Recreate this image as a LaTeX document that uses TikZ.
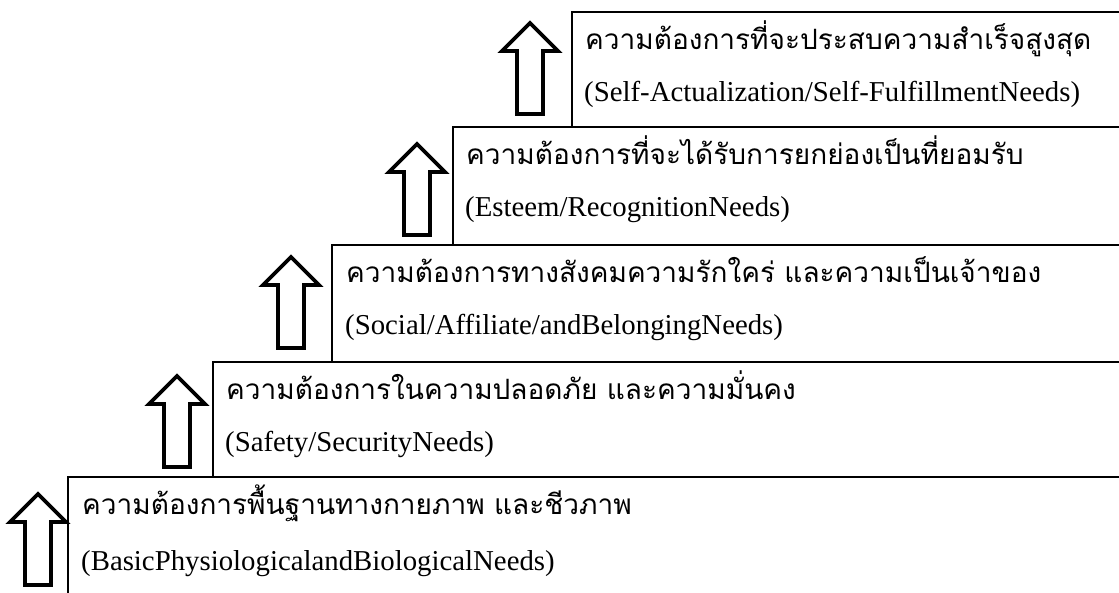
\documentclass[tikz,border=0pt]{standalone}
\usepackage{fontspec}
\setmainfont{Liberation Serif}
\newfontfamily\thaifont[Script=Thai]{Loma}
\tikzset{
  stepbox/.style={draw=black, line width=2.5pt},
  thaitext/.style={anchor=base west, inner sep=0pt, font=\thaifont\fontsize{28}{32}\selectfont},
  engtext/.style={anchor=base west, inner sep=0pt, font=\fontsize{28.8}{32}\selectfont},
  uparrow/.pic={\draw[line width=3.8pt, miter limit=10, fill=white] (-13,0) -- (-13,-63) -- (-28,-63) -- (0,-91) -- (28,-63) -- (13,-63) -- (13,0) -- cycle;}
}
\begin{document}
\begin{tikzpicture}[x=1pt,y=-1pt]
\useasboundingbox (0,0) rectangle (1119,592);
\begin{scope}
\clip (0,0) rectangle (1119,592);
% boxes (left, top, bottom)
\draw[stepbox] (572,12) rectangle (1130,127);
\draw[stepbox] (453,127) rectangle (1130,245);
\draw[stepbox] (332,245) rectangle (1130,362);
\draw[stepbox] (213,362) rectangle (1130,477);
\draw[stepbox] (68,477) rectangle (1130,600);
\end{scope}
% arrows
\pic at (530,114) {uparrow};
\pic at (417,235) {uparrow};
\pic at (291,348) {uparrow};
\pic at (177,467) {uparrow};
\pic at (38,585) {uparrow};
% texts
\node[thaitext] (t5) at (585,49) {ความต้องการที่จะประสบความสำเร็จสูงสุด};
\node[engtext] (e5) at (584,101) {(Self-Actualization/Self-FulfillmentNeeds)};
\node[thaitext] (t4) at (466,164) {ความต้องการที่จะได้รับการยกย่องเป็นที่ยอมรับ};
\node[engtext] (e4) at (465,216) {(Esteem/RecognitionNeeds)};
\node[thaitext] (t3) at (346,282) {ความต้องการทางสังคมความรักใคร่ และความเป็นเจ้าของ};
\node[engtext] (e3) at (345,334) {(Social/Affiliate/andBelongingNeeds)};
\node[thaitext] (t2) at (226,399) {ความต้องการในความปลอดภัย และความมั่นคง};
\node[engtext] (e2) at (225,451) {(Safety/SecurityNeeds)};
\node[thaitext] (t1) at (82,514) {ความต้องการพื้นฐานทางกายภาพ และชีวภาพ};
\node[engtext] (e1) at (81,570) {(BasicPhysiologicalandBiologicalNeeds)};
\end{tikzpicture}
\end{document}
